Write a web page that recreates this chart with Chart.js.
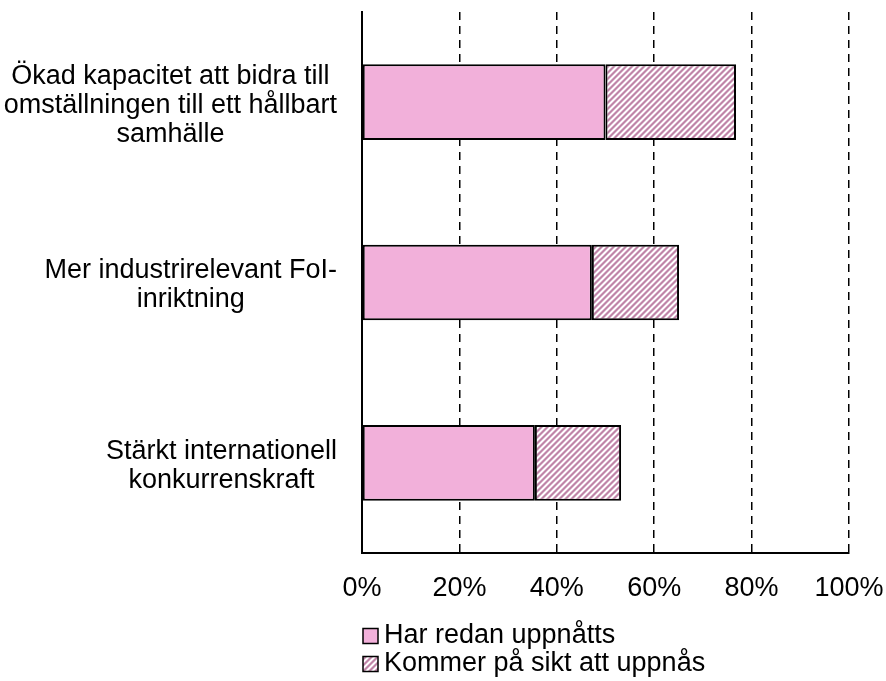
<!DOCTYPE html>
<html lang="sv">
<head>
<meta charset="utf-8">
<script src="https://cdn.jsdelivr.net/npm/chart.js@4"></script>
<style>
  html, body { margin: 0; padding: 0; background: #fff; }
  #wrap { width: 886px; height: 681px; }
</style>
</head>
<body>
<div id="wrap"><canvas id="c" width="886" height="681"></canvas></div>
<script>
// Kategorier (flera rader per etikett)
const categories = [
  ["Ökad kapacitet att bidra till", "omställningen till ett hållbart", "samhälle"],
  ["Mer industrirelevant FoI-", "inriktning"],
  ["Stärkt internationell", "konkurrenskraft"]
];
const seriesNames = ["Har redan uppnåtts", "Kommer på sikt att uppnås"];
// Andel i procent
const redanUppnatts = [50, 47.2, 35.5];
const pliktUppnas = [26.8, 17.9, 17.7];
const xTicks = [0, 20, 40, 60, 80, 100];

const FONT = '"Liberation Sans", Arial, sans-serif';
const FONT_SIZE = 27;
const PINK = '#f2b0da';
const STRIPE = '#bf86a8';
const STRIPE_EDGE = '#dfbcd1';

// Diagonal randning för den andra serien
function hatch() {
  const n = 6;
  const t = document.createElement('canvas');
  t.width = n; t.height = n;
  const g = t.getContext('2d');
  g.fillStyle = '#ffffff';
  g.fillRect(0, 0, n, n);
  for (let y = 0; y < n; y++) {
    for (let x = 0; x < n; x++) {
      const m = (x + y) % n;
      if (m === 1 || m === 2) { g.fillStyle = STRIPE; g.fillRect(x, y, 1, 1); }
      else if (m === 0 || m === 3) { g.fillStyle = STRIPE_EDGE; g.fillRect(x, y, 1, 1); }
    }
  }
  return document.getElementById('c').getContext('2d').createPattern(t, 'repeat');
}
const HATCH = hatch();

// Kategorietiketter: block högerjusterade mot axeln, raderna centrerade i blocket
const categoryLabels = {
  id: 'categoryLabels',
  afterDraw(chart) {
    const { ctx, chartArea } = chart;
    const yScale = chart.scales.y;
    const right = chartArea.left - 25;
    const lh = 29;
    ctx.save();
    ctx.font = FONT_SIZE + 'px ' + FONT;
    ctx.fillStyle = '#000';
    ctx.textAlign = 'center';
    ctx.textBaseline = 'middle';
    chart.data.labels.forEach((lines, i) => {
      const cy = yScale.getPixelForValue(i) + 3;
      const w = Math.max(...lines.map(l => ctx.measureText(l).width));
      const cx = right - w / 2;
      lines.forEach((l, j) => {
        ctx.fillText(l, cx, cy + (j - (lines.length - 1) / 2) * lh);
      });
    });
    ctx.restore();
  }
};

// Förklaring under diagrammet, en serie per rad
const stackedLegend = {
  id: 'stackedLegend',
  afterDraw(chart) {
    const { ctx, chartArea } = chart;
    const x0 = chartArea.left + 1;
    const rows = [636, 664];
    ctx.save();
    ctx.font = FONT_SIZE + 'px ' + FONT;
    ctx.textBaseline = 'middle';
    ctx.textAlign = 'left';
    chart.data.datasets.forEach((ds, i) => {
      const cy = rows[i];
      ctx.fillStyle = ds.backgroundColor;
      ctx.fillRect(x0, cy - 7.5, 15, 15);
      ctx.lineWidth = 1.5;
      ctx.strokeStyle = '#000';
      ctx.strokeRect(x0, cy - 7.5, 15, 15);
      ctx.fillStyle = '#000';
      ctx.fillText(ds.label, x0 + 21, cy);
    });
    ctx.restore();
  }
};

new Chart(document.getElementById('c'), {
  type: 'bar',
  data: {
    labels: categories,
    datasets: [
      {
        label: seriesNames[0],
        data: redanUppnatts,
        backgroundColor: PINK,
        borderColor: '#000',
        borderWidth: 2,
        borderSkipped: false
      },
      {
        label: seriesNames[1],
        data: pliktUppnas,
        backgroundColor: HATCH,
        borderColor: '#000',
        borderWidth: 2,
        borderSkipped: false
      }
    ]
  },
  options: {
    indexAxis: 'y',
    responsive: false,
    animation: false,
    devicePixelRatio: 1,
    layout: { padding: { top: 12, right: 37, bottom: 0, left: 0 } },
    datasets: { bar: { barPercentage: 0.42, categoryPercentage: 1 } },
    plugins: {
      legend: { display: false },
      tooltip: { enabled: false }
    },
    scales: {
      x: {
        stacked: true,
        min: 0,
        max: 100,
        afterBuildTicks(scale) { scale.ticks = xTicks.map(v => ({ value: v })); },
        afterFit(scale) {
          scale.height = 128;
          scale.paddingLeft = 0;
          scale.paddingRight = 0;
        },
        ticks: {
          padding: 19,
          color: '#000',
          font: { family: FONT, size: FONT_SIZE },
          callback: v => v + '%'
        },
        grid: { color: '#000', lineWidth: 1.5, drawTicks: false },
        border: { color: '#000', width: 2, dash: [8, 6] }
      },
      y: {
        stacked: true,
        afterFit(scale) { scale.width = 362; },
        ticks: { display: false },
        grid: { display: false, drawTicks: false },
        border: { color: '#000', width: 2 }
      }
    }
  },
  plugins: [categoryLabels, stackedLegend]
});
</script>
</body>
</html>
